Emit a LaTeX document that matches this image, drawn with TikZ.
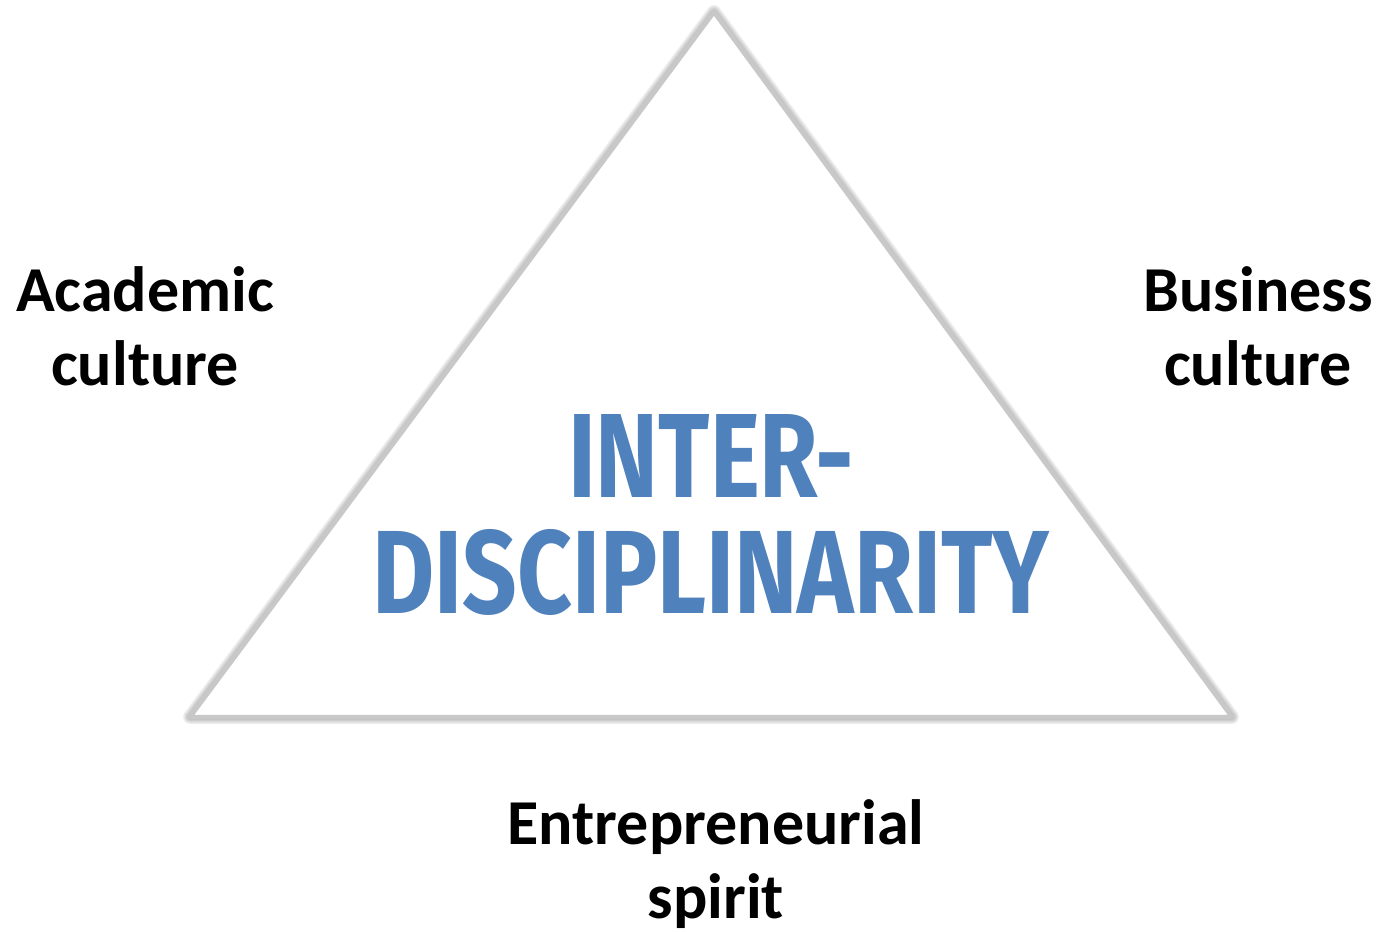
\documentclass[tikz,border=0pt]{standalone}
\usepackage{fontspec}
\setmainfont{Carlito}
\newfontfamily\titlefont{Fira Sans}
\definecolor{tri}{RGB}{200,200,200}
\definecolor{blueword}{RGB}{79,129,189}
\begin{document}
\begin{tikzpicture}[x=1pt,y=-1pt,
  label/.style={font=\fontsize{64}{74}\selectfont\bfseries, align=center, text=black, inner sep=0pt},
  trishadow/.style={draw=black, line width=#1, line join=round, line cap=round, opacity=0.07},
  title/.style={text=blueword, inner sep=0pt, anchor=north west}]
\useasboundingbox (0,0) rectangle (1379,933);
\coordinate (A) at (714,12);
\coordinate (L) at (190,717);
\coordinate (R) at (1232,717);
% shadow
\foreach \w in {14,11,8,5}{
  \draw[trishadow=\w pt, shift={(4,5)}] (A) -- (L) -- (R) -- cycle;
}
\draw[draw=tri, line width=4.5pt, line join=round, fill=white] (A) -- (L) -- (R) -- cycle;
% labels
\node[label] (acad) at (145,326) {Academic\\culture};
\node[label] (bus) at (1258,326) {Business\\culture};
\node[label] (ent) at (716,864) {Entrepreneurial\\spirit};
% title
\node[title] (t1) at (568,414) {\resizebox{286pt}{83pt}{\titlefont\bfseries INTER-}};
\node[title] (t2) at (372,529) {\resizebox{677pt}{84pt}{\titlefont\bfseries DISCIPLINARITY}};
\end{tikzpicture}
\end{document}
